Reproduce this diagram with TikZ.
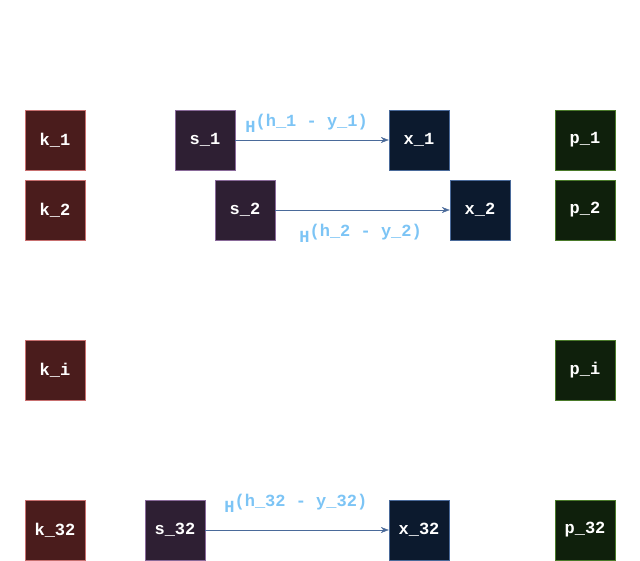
\documentclass[tikz,border=0pt]{standalone}
\usepackage{fontspec}
\setmonofont{Liberation Mono}
\usepackage{tikz}
\usetikzlibrary{arrows.meta}
\definecolor{kfill}{HTML}{4A1C1C}
\definecolor{kline}{HTML}{C87070}
\definecolor{sfill}{HTML}{2E1F33}
\definecolor{sline}{HTML}{8A6A9A}
\definecolor{xfill}{HTML}{0C1A2E}
\definecolor{xline}{HTML}{4A6A9A}
\definecolor{pfill}{HTML}{0F200C}
\definecolor{pline}{HTML}{4A7A2A}
\definecolor{lblue}{HTML}{7CC4F5}
\tikzset{
  cell/.style={minimum size=60pt,inner sep=0pt,text=white,
    font=\fontsize{17}{17}\selectfont\ttfamily\bfseries},
  kcell/.style={cell,draw=kline,fill=kfill},
  scell/.style={cell,draw=sline,fill=sfill},
  xcell/.style={cell,draw=xline,fill=xfill},
  pcell/.style={cell,draw=pline,fill=pfill},
  hop/.style={draw=xline,-{Stealth[length=8pt,width=6pt]}},
  lbl/.style={text=lblue,inner sep=0pt,font=\fontsize{17}{17}\selectfont\ttfamily\bfseries}
}
\newcommand{\hexp}[2]{H\raisebox{6pt}{(h\_#1 - y\_#2)}}

\begin{document}
\begin{tikzpicture}[x=1pt,y=-1pt]
	\useasboundingbox (0,0) rectangle (640,561);
	% left column
	\node[kcell] (k1) at (55,140) {k\_1};
	\node[kcell] (k2) at (55,210) {k\_2};
	\node[kcell] (ki) at (55,370) {k\_i};
	\node[kcell] (k32) at (55,530) {k\_32};
	% sources
	\node[scell] (s1) at (205,140) {s\_1};
	\node[scell] (s2) at (245,210) {s\_2};
	\node[scell] (s32) at (175,530) {s\_32};
	% targets
	\node[xcell] (x1) at (419,140) {x\_1};
	\node[xcell] (x2) at (480,210) {x\_2};
	\node[xcell] (x32) at (419,530) {x\_32};
	% right column
	\node[pcell] (p1) at (585,140) {p\_1};
	\node[pcell] (p2) at (585,210) {p\_2};
	\node[pcell] (pi) at (585,370) {p\_i};
	\node[pcell] (p32) at (585,530) {p\_32};
	% arrows
	\draw[hop] (s1) -- (x1) node[lbl,pos=0,anchor=south west,xshift=10pt,yshift=7pt] {\hexp{1}{1}};
	\draw[hop] (s2) -- (x2) node[lbl,pos=0,anchor=north west,xshift=24pt,yshift=-14pt] {\hexp{2}{2}};
	\draw[hop] (s32) -- (x32) node[lbl,pos=0,anchor=south west,xshift=19pt,yshift=17pt] {\hexp{32}{32}};
\end{tikzpicture}
\end{document}
